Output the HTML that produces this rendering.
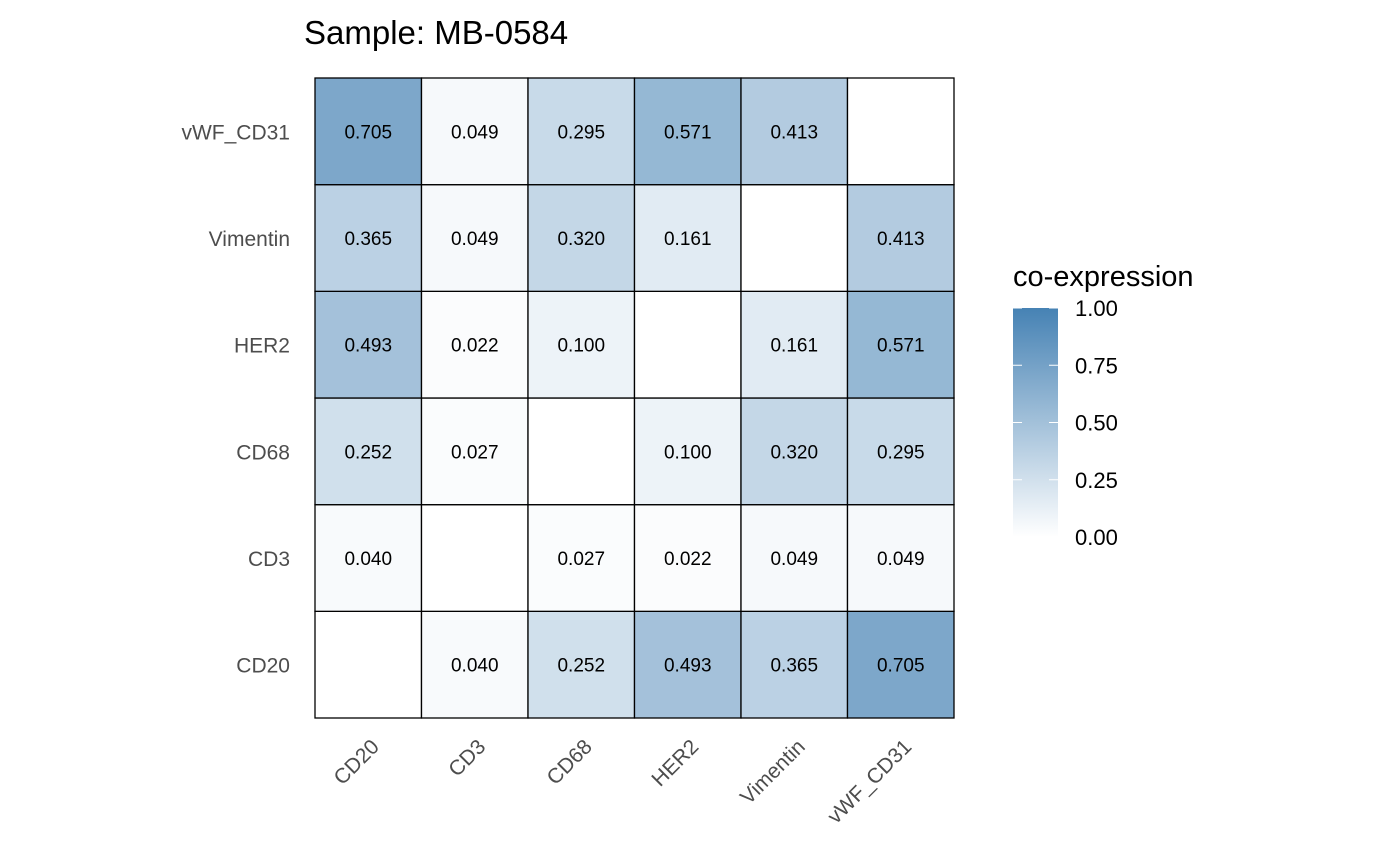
<!DOCTYPE html>
<html><head><meta charset="utf-8"><style>
body{margin:0;background:#fff;}
svg{display:block;font-family:"Liberation Sans","DejaVu Sans",sans-serif;}
</style></head><body>
<svg id="c" width="1400" height="865" xmlns="http://www.w3.org/2000/svg">
<defs><linearGradient id="g" x1="0" y1="1" x2="0" y2="0"><stop offset="0" stop-color="#ffffff"/><stop offset="1" stop-color="#4682B4"/></linearGradient></defs>
<text x="304" y="44" font-size="33" fill="#000">Sample: MB-0584</text>
<g id="cells"></g><g id="xl"></g><g id="yl"></g>
<text x="1013" y="286" font-size="29" fill="#000">co-expression</text>
<rect x="1013" y="308" width="45" height="229" fill="url(#g)"/>
<g id="lg"></g>
</svg>
<script>
const markers=["CD20","CD3","CD68","HER2","Vimentin","vWF_CD31"];
// matrix[i][j]: row marker i, column marker j (null on diagonal)
const values=[
[null,0.040,0.252,0.493,0.365,0.705],
[0.040,null,0.027,0.022,0.049,0.049],
[0.252,0.027,null,0.100,0.320,0.295],
[0.493,0.022,0.100,null,0.161,0.571],
[0.365,0.049,0.320,0.161,null,0.413],
[0.705,0.049,0.295,0.571,0.413,null]];
const legendTicks=[0,0.25,0.5,0.75,1];
const NS="http://www.w3.org/2000/svg";
const x0=315,x1=954,y0=78,y1=718,n=markers.length;
const cw=(x1-x0)/n,ch=(y1-y0)/n;
const xs=j=>x0+j*cw, ys=i=>y1-(i+1)*ch;
const col=v=>{const t=v==null?0:v;return `rgb(${Math.round(255-t*185)},${Math.round(255-t*125)},${Math.round(255-t*75)})`;};
const mk=(t,a,p)=>{const e=document.createElementNS(NS,t);for(const k in a)e.setAttribute(k,a[k]);p.appendChild(e);return e;};
const cells=document.getElementById('cells');
for(let i=0;i<n;i++)for(let j=0;j<n;j++){
 const v=values[i][j];
 const r=mk('rect',{x:xs(j),y:ys(i),width:cw,height:ch,fill:col(v),stroke:'#000','stroke-width':1.3},cells);
 
 
 if(v!=null){const t=mk('text',{x:xs(j)+cw/2,y:ys(i)+ch/2+7,'font-size':19,'text-anchor':'middle',fill:'#000'},cells);t.textContent=v.toFixed(3);
 
 }
}
const xl=document.getElementById('xl'),yl=document.getElementById('yl');
markers.forEach((m,k)=>{
 const cx=xs(k)+cw/2+12;
 const t=mk('text',{x:cx,y:748,'font-size':21,'text-anchor':'end',fill:'#4d4d4d',transform:`rotate(-45 ${cx} 748)`},xl);t.textContent=m;
 
 
 const u=mk('text',{x:290,y:ys(k)+ch/2+8,'font-size':21,'text-anchor':'end',fill:'#4d4d4d'},yl);u.textContent=m;
 
 
});
const lg=document.getElementById('lg');
legendTicks.forEach(v=>{
 const y=537-v*229;
 mk('line',{x1:1013,x2:1022,y1:y,y2:y,stroke:'#fff','stroke-width':1},lg);
 mk('line',{x1:1049,x2:1058,y1:y,y2:y,stroke:'#fff','stroke-width':1},lg);
 const t=mk('text',{x:1075,y:y+8,'font-size':22,fill:'#000'},lg);t.textContent=v.toFixed(2);
 
 
});
</script>
</body></html>
